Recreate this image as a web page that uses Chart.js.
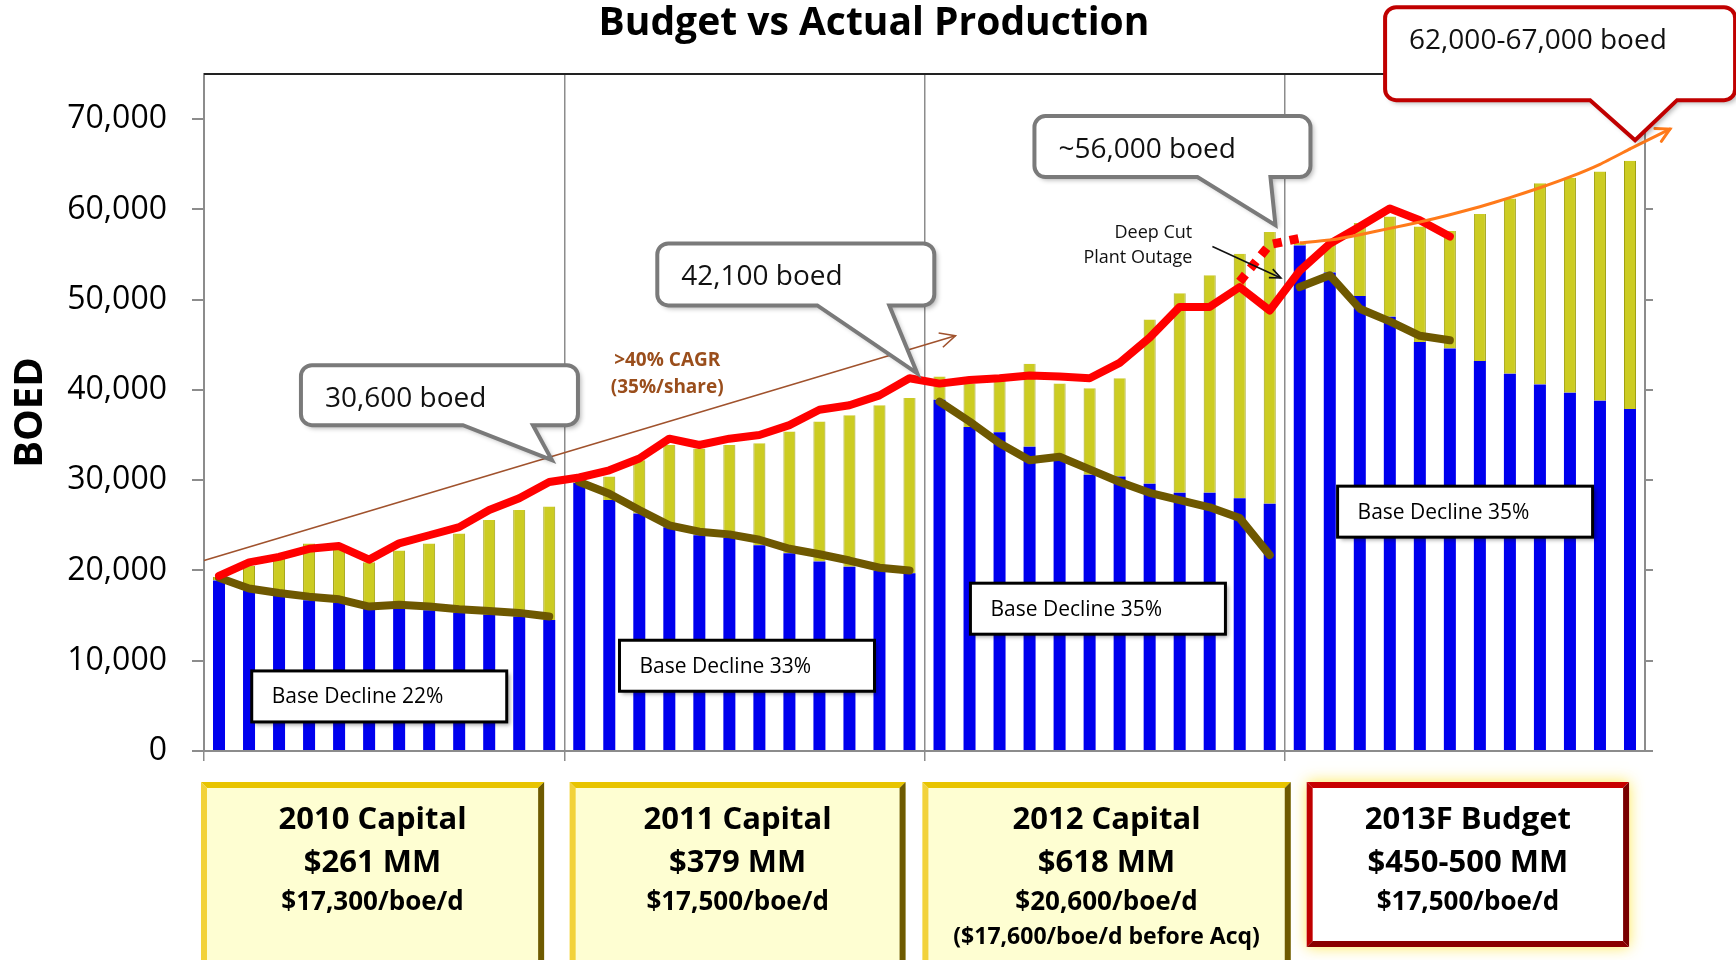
<!DOCTYPE html>
<html>
<head>
<meta charset="utf-8">
<title>Budget vs Actual Production</title>
<script src="https://cdn.jsdelivr.net/npm/chart.js@4.4.1/dist/chart.umd.min.js"></script>
<style>
  html, body { margin: 0; padding: 0; background: #ffffff; }
  #chart { display: block; }
</style>
</head>
<body>
<canvas id="chart" width="1736" height="960"></canvas>
<script>
// months Jan 2010 .. Dec 2013
const years = ['2010', '2011', '2012', '2013'];
const monthNames = ['Jan', 'Feb', 'Mar', 'Apr', 'May', 'Jun', 'Jul', 'Aug', 'Sep', 'Oct', 'Nov', 'Dec'];
const months = [];
for (const yr of years) for (const m of monthNames) months.push(m + ' ' + yr);

// y axis ticks (BOED)
const yTicks = [0, 10000, 20000, 30000, 40000, 50000, 60000, 70000];

// blue part of each bar: production from the existing base
const baseProd = [
  18900, 17800, 17300, 16700, 16400, 15800, 15800, 15600, 15300, 15100, 14900, 14500,
  29700, 27800, 26300, 24800, 23900, 23600, 22800, 21900, 21000, 20400, 20000, 19700,
  38900, 35900, 35300, 33700, 32600, 30600, 30400, 29600, 28600, 28600, 28000, 27400,
  56000, 53000, 50400, 48100, 45300, 44600, 43200, 41800, 40600, 39700, 38800, 37900
];
// yellow part of each bar: production added by the year's capital program
const newProd = [
  400, 2700, 4500, 6300, 6200, 5100, 6400, 7400, 8800, 10500, 11800, 12600,
  700, 2600, 5900, 9100, 9600, 10300, 11300, 13500, 15500, 16800, 18300, 19400,
  2600, 4800, 5700, 9200, 8100, 9600, 10900, 18200, 22100, 24100, 27100, 30100,
  300, 3100, 8100, 11100, 12800, 13000, 16300, 19400, 22300, 23800, 25400, 27500
];
// red line: actual production
const actual = [
  19400, 20900, 21500, 22400, 22700, 21200, 23000, 23900, 24800, 26700, 28000, 29800,
  30300, 31100, 32400, 34600, 33900, 34600, 35000, 36100, 37800, 38300, 39400, 41300,
  40700, 41100, 41300, 41600, 41500, 41300, 43000, 45800, 49200, 49200, 51400, 48800,
  53200, 56200, 58100, 60100, 58800, 57000, null, null, null, null, null, null
];
// dotted red: production without the plant outage
const outage = [
  null, null, null, null, null, null, null, null, null, null, null, null,
  null, null, null, null, null, null, null, null, null, null, null, null,
  null, null, null, null, null, null, null, null, null, null, 52000, 56100,
  56800, null, null, null, null, null, null, null, null, null, null, null
];
// brown line: base decline, restarted every year
const baseDecline = [
  19200, 18000, 17500, 17100, 16800, 16000, 16200, 16000, 15700, 15500, 15300, 14900,
  29800, 28500, 26700, 25000, 24300, 24000, 23400, 22400, 21800, 21100, 20300, 20000,
  38700, 36500, 34100, 32200, 32600, 31200, 29800, 28600, 27800, 27000, 25800, 21700,
  51400, 52700, 49000, 47600, 46000, 45500, null, null, null, null, null, null
];
// orange line: 2013 forecast
const forecast = [
  null, null, null, null, null, null, null, null, null, null, null, null,
  null, null, null, null, null, null, null, null, null, null, null, null,
  null, null, null, null, null, null, null, null, null, null, null, null,
  56300, 56600, 57200, 57900, 58600, 59400, 60300, 61300, 62400, 63600, 65000, 66700
];
const forecastTip = [48.33, 68900];          // [month index, boed] where the arrow ends
const cagrTrend = [[-0.5, 21100], [24.53, 46000]];

// boxes under the chart
const capitalTitles = ['2010 Capital', '2011 Capital', '2012 Capital', '2013F Budget'];
const capitalAmounts = ['$261 MM', '$379 MM', '$618 MM', '$450-500 MM'];
const capitalRates = ['$17,300/boe/d', '$17,500/boe/d', '$20,600/boe/d', '$17,500/boe/d'];
const capitalNotes = ['', '', '($17,600/boe/d before Acq)', ''];

const FONT = "'Open Sans', 'DejaVu Sans', sans-serif";
Chart.defaults.font.family = FONT;

// annotation layout (anchors in month index / boed, sizes in px)
const callouts = [
  { text: '30,600 boed', tip: [11.09, 32220], dx: -251, dy: -95, w: 277, h: 60, base: [-89, -19], color: '#7a7a7a' },
  { text: '42,100 boed', tip: [23.26, 41830], dx: -260, dy: -130, w: 277, h: 62, base: [-100, -28], color: '#7a7a7a' },
  { text: '~56,000 boed', tip: [35.19, 58260], dx: -241, dy: -109, w: 276, h: 61, base: [-78, -5], color: '#7a7a7a' },
  { text: '62,000-67,000 boed', tip: [47.17, 67670], dx: -250, dy: -133, w: 350, h: 93, base: [-45, 42], color: '#c00000' }
];
const declineBoxes = [
  { text: 'Base Decline 22%', at: [1.09, 8870] },
  { text: 'Base Decline 33%', at: [13.34, 12270] },
  { text: 'Base Decline 35%', at: [25.03, 18590] },
  { text: 'Base Decline 35%', at: [37.26, 29340] }
];
const capitalSpan = [[-0.6, 10.83], [11.68, 22.87], [23.43, 35.7], [36.23, 46.97]];

function arrowHead(ctx, fx, fy, tx, ty, len, spread) {
  const ang = Math.atan2(ty - fy, tx - fx);
  ctx.beginPath();
  ctx.moveTo(tx - len * Math.cos(ang - spread), ty - len * Math.sin(ang - spread));
  ctx.lineTo(tx, ty);
  ctx.lineTo(tx - len * Math.cos(ang + spread), ty - len * Math.sin(ang + spread));
  ctx.stroke();
}

function drawCallout(ctx, c, tx, ty) {
  const x0 = tx + c.dx, y0 = ty + c.dy, x1 = x0 + c.w, y1 = y0 + c.h, r = 11;
  ctx.save();
  ctx.beginPath();
  ctx.moveTo(x0 + r, y0);
  ctx.lineTo(x1 - r, y0);
  ctx.arcTo(x1, y0, x1, y0 + r, r);
  ctx.lineTo(x1, y1 - r);
  ctx.arcTo(x1, y1, x1 - r, y1, r);
  ctx.lineTo(tx + c.base[1], y1);
  ctx.lineTo(tx, ty);
  ctx.lineTo(tx + c.base[0], y1);
  ctx.lineTo(x0 + r, y1);
  ctx.arcTo(x0, y1, x0, y1 - r, r);
  ctx.lineTo(x0, y0 + r);
  ctx.arcTo(x0, y0, x0 + r, y0, r);
  ctx.closePath();
  ctx.shadowColor = 'rgba(0,0,0,0.3)';
  ctx.shadowBlur = 5;
  ctx.shadowOffsetX = 3;
  ctx.shadowOffsetY = 3;
  ctx.fillStyle = '#ffffff';
  ctx.fill();
  ctx.shadowColor = 'transparent';
  ctx.lineWidth = 4;
  ctx.lineJoin = 'miter';
  ctx.strokeStyle = c.color;
  ctx.stroke();
  ctx.fillStyle = '#111';
  ctx.font = '28px ' + FONT;
  ctx.textAlign = 'left';
  ctx.textBaseline = 'alphabetic';
  ctx.fillText(c.text, x0 + 24, y0 + 42);
  ctx.restore();
}

function bevelBox(ctx, x0, y0, x1, y1, b, fill, light, dark) {
  ctx.fillStyle = fill;
  ctx.fillRect(x0, y0, x1 - x0, y1 - y0);
  const quad = (pts, col) => {
    ctx.beginPath();
    ctx.moveTo(pts[0][0], pts[0][1]);
    for (const p of pts.slice(1)) ctx.lineTo(p[0], p[1]);
    ctx.closePath();
    ctx.fillStyle = col;
    ctx.fill();
  };
  quad([[x0, y0], [x1, y0], [x1 - b, y0 + b], [x0 + b, y0 + b]], light[0]);
  quad([[x0, y0], [x0 + b, y0 + b], [x0 + b, y1 - b], [x0, y1]], light[1]);
  quad([[x1, y0], [x1, y1], [x1 - b, y1 - b], [x1 - b, y0 + b]], dark[0]);
  quad([[x0, y1], [x1, y1], [x1 - b, y1 - b], [x0 + b, y1 - b]], dark[1]);
}

const annotate = {
  id: 'annotate',
  afterDraw(chart) {
    const { ctx, chartArea: a, scales: { x, y } } = chart;
    const px = i => x.getPixelForValue(i);
    const py = v => y.getPixelForValue(v);
    ctx.save();

    // top frame line
    ctx.strokeStyle = '#222';
    ctx.lineWidth = 2;
    ctx.beginPath();
    ctx.moveTo(a.left, a.top);
    ctx.lineTo(a.right, a.top);
    ctx.stroke();

    // CAGR trend arrow and label
    const cx0 = px(cagrTrend[0][0]), cy0 = py(cagrTrend[0][1]);
    const cx1 = px(cagrTrend[1][0]), cy1 = py(cagrTrend[1][1]);
    ctx.strokeStyle = '#a0522d';
    ctx.lineWidth = 1.6;
    ctx.beginPath();
    ctx.moveTo(cx0, cy0);
    ctx.lineTo(cx1, cy1);
    ctx.stroke();
    arrowHead(ctx, cx0, cy0, cx1, cy1, 17, 0.45);
    ctx.fillStyle = '#9a4e1c';
    ctx.font = 'bold 19px ' + FONT;
    ctx.textAlign = 'center';
    ctx.fillText('>40% CAGR', px(14.93), py(42640));
    ctx.fillText('(35%/share)', px(14.93), py(39650));

    // forecast arrow running past the last month
    const fi = forecast.length - 1;
    const fx0 = px(fi), fy0 = py(forecast[fi]);
    const fx1 = px(forecastTip[0]), fy1 = py(forecastTip[1]);
    ctx.strokeStyle = '#ff7a1a';
    ctx.lineWidth = 3;
    ctx.lineCap = 'round';
    ctx.beginPath();
    ctx.moveTo(fx0, fy0);
    ctx.lineTo(fx1, fy1);
    ctx.stroke();
    arrowHead(ctx, fx0, fy0, fx1, fy1, 15, 0.5);

    // plant outage note
    ctx.fillStyle = '#111';
    ctx.font = '18px ' + FONT;
    ctx.textAlign = 'right';
    ctx.fillText('Deep Cut', px(32.42), py(56880));
    ctx.fillText('Plant Outage', px(32.42), py(54110));
    const ax0 = px(33.09), ay0 = py(55890), ax1 = px(35.37), ay1 = py(52400);
    ctx.strokeStyle = '#111';
    ctx.lineWidth = 1.6;
    ctx.lineCap = 'butt';
    ctx.beginPath();
    ctx.moveTo(ax0, ay0);
    ctx.lineTo(ax1, ay1);
    ctx.stroke();
    arrowHead(ctx, ax0, ay0, ax1, ay1, 12, 0.4);

    // base decline labels
    ctx.font = '21px ' + FONT;
    ctx.textAlign = 'left';
    ctx.textBaseline = 'middle';
    for (const d of declineBoxes) {
      const bx = px(d.at[0]), by = py(d.at[1]), bw = 255, bh = 51;
      ctx.save();
      ctx.shadowColor = 'rgba(0,0,0,0.35)';
      ctx.shadowBlur = 4;
      ctx.shadowOffsetX = 3;
      ctx.shadowOffsetY = 3;
      ctx.fillStyle = '#ffffff';
      ctx.fillRect(bx, by, bw, bh);
      ctx.restore();
      ctx.strokeStyle = '#000';
      ctx.lineWidth = 3;
      ctx.strokeRect(bx, by, bw, bh);
      ctx.fillStyle = '#000';
      ctx.fillText(d.text, bx + 20, by + bh / 2 + 1);
    }
    ctx.textBaseline = 'alphabetic';

    // value callouts
    for (const c of callouts) drawCallout(ctx, c, px(c.tip[0]), py(c.tip[1]));

    // chart title
    ctx.fillStyle = '#000';
    ctx.font = 'bold 39px ' + FONT;
    ctx.textAlign = 'center';
    ctx.fillText('Budget vs Actual Production', 874, 35);

    // capital boxes under each year
    const top = a.bottom + 31;
    capitalSpan.forEach((s, k) => {
      const bx0 = px(s[0]), bx1 = px(s[1]);
      const last = k === capitalSpan.length - 1;
      const by1 = last ? top + 165 : chart.height + 12;
      if (last) {
        ctx.save();
        ctx.shadowColor = 'rgba(255,230,60,0.9)';
        ctx.shadowBlur = 14;
        ctx.fillStyle = '#ffffff';
        ctx.fillRect(bx0, top, bx1 - bx0, by1 - top);
        ctx.restore();
        bevelBox(ctx, bx0, top, bx1, by1, 6, '#ffffff', ['#c80000', '#c00000'], ['#7a0000', '#8a0000']);
      } else {
        bevelBox(ctx, bx0, top, bx1, by1, 6, '#fefed2', ['#e8c400', '#f2d23a'], ['#6e5a00', '#7e6800']);
      }
      const mid = (bx0 + bx1) / 2;
      ctx.fillStyle = '#000';
      ctx.textAlign = 'center';
      ctx.font = 'bold 31px ' + FONT;
      ctx.fillText(capitalTitles[k], mid, a.bottom + 77.6);
      ctx.fillText(capitalAmounts[k], mid, a.bottom + 121.3);
      ctx.font = 'bold 26px ' + FONT;
      ctx.fillText(capitalRates[k], mid, a.bottom + 158.5);
      if (capitalNotes[k]) {
        ctx.font = 'bold 23px ' + FONT;
        ctx.fillText(capitalNotes[k], mid, a.bottom + 193);
      }
    });
    ctx.restore();
  }
};

const RED = '#ff0000';
const BROWN = '#6e5800';
const setTicks = s => { s.ticks = yTicks.map(v => ({ value: v })); };

new Chart(document.getElementById('chart'), {
  type: 'bar',
  data: {
    labels: months,
    datasets: [
      { type: 'line', label: '2013 forecast', data: forecast, yAxisID: 'y2', order: 0,
        borderColor: '#ff7a1a', borderWidth: 3, pointRadius: 0, tension: 0.2 },
      { type: 'line', label: 'Actual', data: actual, yAxisID: 'y2', order: 1,
        borderColor: RED, borderWidth: 8, pointRadius: 0, borderJoinStyle: 'round', borderCapStyle: 'round' },
      { type: 'line', label: 'Without outage', data: outage, yAxisID: 'y2', order: 2,
        borderColor: RED, borderWidth: 9, borderDash: [9, 8], pointRadius: 0 },
      { type: 'line', label: 'Base decline', data: baseDecline, yAxisID: 'y2', order: 3,
        borderColor: BROWN, borderWidth: 8, pointRadius: 0, borderJoinStyle: 'round', borderCapStyle: 'round',
        segment: { borderColor: c => (c.p1DataIndex % 12 === 0 ? 'rgba(0,0,0,0)' : undefined) } },
      { label: 'Base production', data: baseProd, stack: 'prod', order: 10,
        backgroundColor: '#0000ee', barPercentage: 0.4, categoryPercentage: 1 },
      { label: 'New production', data: newProd, stack: 'prod', order: 10,
        backgroundColor: '#cccc22', borderColor: '#a0a012', borderWidth: { left: 1, right: 1, top: 0, bottom: 0 },
        barPercentage: 0.4, categoryPercentage: 1 }
    ]
  },
  options: {
    responsive: false,
    animation: false,
    layout: { padding: { left: 0, right: 83, top: 74, bottom: 199 } },
    plugins: {
      legend: { display: false },
      tooltip: { enabled: false }
    },
    scales: {
      x: {
        stacked: true,
        offset: true,
        ticks: { display: false },
        grid: {
          offset: true,
          color: c => (c.index % 12 === 0 ? '#8c8c8c' : 'rgba(0,0,0,0)'),
          lineWidth: 1.5,
          tickLength: 10
        },
        border: { display: true, color: '#8c8c8c', width: 2 },
        afterFit: s => { s.height = 10; }
      },
      y: {
        stacked: true,
        position: 'left',
        min: 0,
        max: 75000,
        afterBuildTicks: setTicks,
        ticks: {
          padding: 25,
          color: '#000',
          font: { size: 32 },
          callback: v => v.toLocaleString('en-US')
        },
        grid: { drawOnChartArea: false, tickLength: 12, color: '#8c8c8c', lineWidth: 2 },
        border: { color: '#8c8c8c', width: 2 },
        title: { display: true, text: 'BOED', color: '#000', font: { size: 40, weight: 'bold' }, padding: { top: 7, bottom: 0 } },
        afterFit: s => { s.width = 204; }
      },
      y2: {
        position: 'right',
        min: 0,
        max: 75000,
        afterBuildTicks: setTicks,
        ticks: { display: false },
        grid: { drawOnChartArea: false, tickLength: 8, color: '#8c8c8c', lineWidth: 2 },
        border: { color: '#8c8c8c', width: 2 },
        afterFit: s => { s.width = 8; }
      }
    }
  },
  plugins: [annotate]
});
</script>
</body>
</html>
